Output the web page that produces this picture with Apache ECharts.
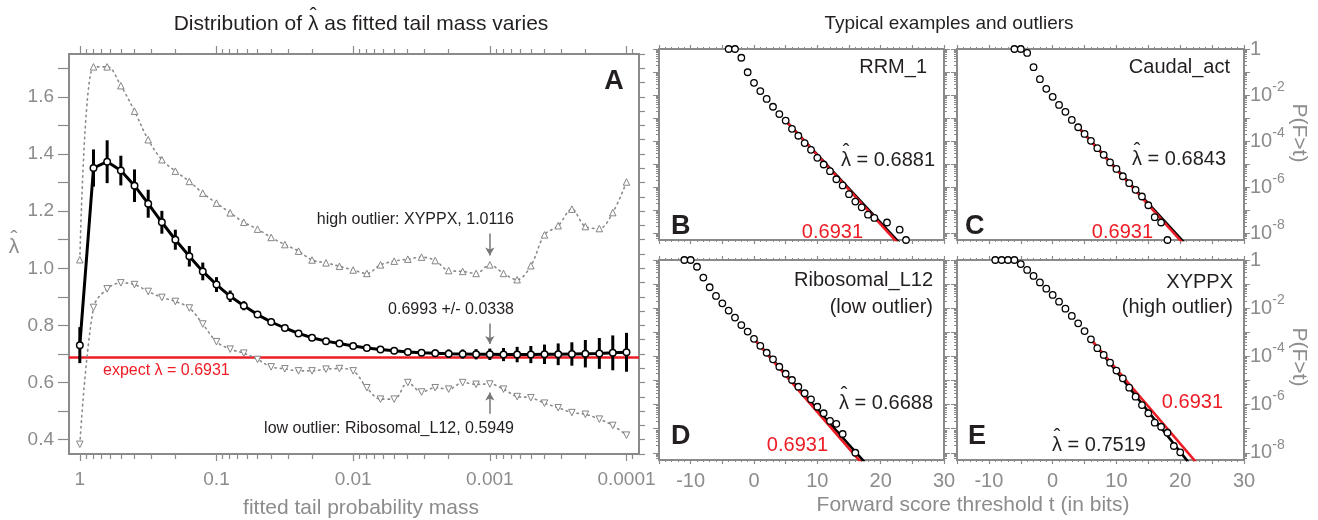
<!DOCTYPE html>
<html><head><meta charset="utf-8">
<script src="https://cdn.jsdelivr.net/npm/echarts@6/dist/echarts.min.js"></script>
<style>html,body{margin:0;padding:0;background:#fff}#c{width:1318px;height:520px}</style>
</head><body><div id="c"></div>
<script>
// ---------------- Panel A data ----------------
const tailMass = [1, 0.794, 0.631, 0.501, 0.398, 0.316, 0.251, 0.2, 0.158, 0.126,
  0.1, 0.0794, 0.0631, 0.0501, 0.0398, 0.0316, 0.0251, 0.02, 0.0158, 0.0126,
  0.01, 0.00794, 0.00631, 0.00501, 0.00398, 0.00316, 0.00251, 0.002, 0.00158, 0.00126,
  0.001, 0.000794, 0.000631, 0.000501, 0.000398, 0.000316, 0.000251, 0.0002, 0.000158, 0.000126, 0.0001];
const lambdaMean = [0.731, 1.351, 1.373, 1.342, 1.289, 1.226, 1.161, 1.100, 1.042, 0.989,
  0.943, 0.902, 0.869, 0.838, 0.812, 0.791, 0.772, 0.757, 0.745, 0.737,
  0.728, 0.721, 0.716, 0.711, 0.707, 0.704, 0.703, 0.701, 0.700, 0.699,
  0.699, 0.698, 0.698, 0.698, 0.699, 0.699, 0.700, 0.701, 0.702, 0.704, 0.706];
const lambdaErr = [0.063, 0.065, 0.075, 0.052, 0.057, 0.049, 0.040, 0.035, 0.036, 0.031,
  0.026, 0.020, 0.016, 0.012, 0.010, 0.009, 0.008, 0.007, 0.007, 0.007,
  0.007, 0.007, 0.008, 0.009, 0.010, 0.011, 0.013, 0.015, 0.016, 0.018,
  0.020, 0.023, 0.027, 0.030, 0.034, 0.038, 0.041, 0.048, 0.054, 0.061, 0.068];
const lambdaHigh = [1.03, 1.705, 1.705, 1.639, 1.550, 1.450, 1.380, 1.340, 1.304, 1.263,
  1.228, 1.194, 1.161, 1.137, 1.108, 1.083, 1.060, 1.029, 1.019, 1.007,
  0.994, 0.982, 1.012, 1.025, 1.032, 1.039, 1.027, 0.992, 0.989, 0.982,
  1.012, 0.982, 0.960, 1.009, 1.117, 1.149, 1.207, 1.146, 1.139, 1.195, 1.302];
const lambdaLow = [0.384, 0.863, 0.928, 0.949, 0.943, 0.919, 0.898, 0.884, 0.861, 0.805,
  0.743, 0.717, 0.703, 0.681, 0.655, 0.648, 0.641, 0.641, 0.647, 0.649,
  0.641, 0.582, 0.542, 0.542, 0.600, 0.567, 0.582, 0.577, 0.600, 0.594,
  0.595, 0.577, 0.551, 0.547, 0.528, 0.512, 0.495, 0.489, 0.472, 0.450, 0.416];
const massTickValues = [1, 0.1, 0.01, 0.001, 0.0001];
const massTickLabels = ['1', '0.1', '0.01', '0.001', '0.0001'];
const lambdaTickLabels = [0.4, 0.6, 0.8, 1.0, 1.2, 1.4, 1.6];
const expectLambda = 0.6931;
const arrowMass = 0.001;
const arrowHigh = [1.122, 1.045];
const arrowMid = [0.807, 0.735];
const arrowLow = [0.491, 0.565];

// ---------------- Panels B-E data (t in bits, log10 P(F>t)) ----------------
const bT = [-4,-3,-2,-1,0,1,2,3,4,5,6,7,8,9,10,11,12,13,14,15,16,17,18,19,21,23,24];
const bLogP = [0,0,-0.38,-1.01,-1.47,-1.83,-2.17,-2.51,-2.83,-3.11,-3.47,-3.77,-4.09,-4.38,-4.73,-5.02,-5.31,-5.66,-5.93,-6.31,-6.63,-6.88,-7.2,-7.34,-7.54,-7.85,-8.3];
const cT = [-6,-5,-4,-3,-2,-1,0,1,2,3,4,5,6,7,8,9,10,11,12,13,14,15,16,17,18];
const cLogP = [0,0,-0.17,-0.79,-1.31,-1.73,-2.08,-2.43,-2.73,-3.08,-3.4,-3.69,-3.99,-4.31,-4.6,-4.93,-5.21,-5.53,-5.83,-6.12,-6.41,-6.79,-7.31,-7.54,-8.3];
const dT = [-11,-10,-9,-8,-7,-6,-5,-4,-3,-2,-1,0,1,2,3,4,5,6,7,8,9,10,11,12,13,14,16];
const dLogP = [0,0,-0.28,-0.73,-1.13,-1.49,-1.80,-2.10,-2.39,-2.70,-2.97,-3.27,-3.56,-3.85,-4.12,-4.43,-4.72,-4.98,-5.26,-5.53,-5.78,-6.09,-6.36,-6.68,-6.80,-7.22,-8.0];
const eT = [-9,-8,-7,-6,-5,-4,-3,-2,-1,0,1,2,3,4,5,6,7,8,9,10,11,12,13,14,15,16,17,18,19,20];
const eLogP = [0,0,0,0,-0.17,-0.41,-0.66,-0.93,-1.19,-1.45,-1.73,-2.02,-2.32,-2.63,-2.95,-3.29,-3.66,-3.94,-4.26,-4.59,-4.91,-5.30,-5.67,-6.02,-6.36,-6.75,-6.92,-7.17,-7.72,-7.98];
// fitted exponential tails: [t, log10 P] at start and end
const bRedFit = [[5,-3.11],[22.6,-8.4]];
const bBlackFit = [[5,-3.11],[22.9,-8.4]];
const cRedFit = [[4,-3.4],[20.3,-8.4]];
const cBlackFit = [[4,-3.4],[20.6,-8.4]];
const dRedFit = [[0,-3.27],[16.9,-8.4]];
const dBlackFit = [[0,-3.27],[17.5,-8.4]];
const eRedFit = [[6,-3.29],[22.5,-8.4]];
const eBlackFit = [[6,-3.29],[21.3,-8.4]];
const panelNames = [['RRM_1'], ['Caudal_act'], ['Ribosomal_L12', '(low outlier)'], ['XYPPX', '(high outlier)']];
const panelLambda = ['0.6881', '0.6843', '0.6688', '0.7519'];
const panelLetters = ['B', 'C', 'D', 'E'];
const tTickLabels = [-10, 0, 10, 20, 30];
const pTickLabels = [1, 1e-2, 1e-4, 1e-6, 1e-8];

// ---------------- styling ----------------
const FONT = '"Liberation Sans", Arial, Helvetica, sans-serif';
const AX = '#8a8a8a', TXT = '#8c8c8c', INK = '#231f20', RED = '#ee1c25';
const X_MIN_A = 8.1e-5, X_MAX_A = 1.2;
const Y_MIN_A = 0.35, Y_MAX_A = 1.75;
const Y_MIN_P = Math.pow(10, -8.3), Y_MAX_P = 1;

const decadesA = massTickValues.slice();
const minorsA = [];
for (let k = 0; k <= 4; k++) for (let m = 2; m <= 9; m++) {
  const v = +(m * Math.pow(10, -k - 1)).toPrecision(3);
  if (v > X_MIN_A) minorsA.push(v);
}
const lamTicksL = []; for (let i = 4; i <= 17; i++) lamTicksL.push(+(i / 10).toFixed(2));
const lamTicksR = []; for (let i = 7; i <= 35; i++) lamTicksR.push(+(i * 0.05).toFixed(2));
const decP = []; for (let k = 0; k >= -8; k--) decP.push(Math.pow(10, k));
const minP = []; for (let k = -9; k < 0; k++) for (let m = 2; m <= 9; m++) { const v = m * Math.pow(10, k); if (v >= Y_MIN_P && v <= 1) minP.push(v); }

const lineSt = { color: AX, width: 2 };
const xAxes = [], yAxes = [];

// Panel A x axes (0..3)
[['bottom', decadesA, 7, true, true], ['bottom', minorsA, 5, false, false], ['top', decadesA, 8, true, false], ['top', minorsA, 5, false, false]]
.forEach(([pos, vals, len, line, lab]) => {
  xAxes.push({
    gridIndex: 0, type: 'log', position: pos, inverse: true, min: X_MIN_A, max: X_MAX_A,
    axisLine: { show: line, onZero: false, lineStyle: lineSt },
    axisTick: { show: true, inside: false, length: len, customValues: vals, lineStyle: { color: AX, width: 1.2 } },
    axisLabel: lab ? { show: true, customValues: massTickValues, color: TXT, fontSize: 19, fontFamily: FONT, margin: 16,
      formatter: v => massTickLabels[Math.round(-Math.log10(v))] } : { show: false },
    splitLine: { show: false }, axisPointer: { show: false }
  });
});
// Panel A y axes (0,1)
yAxes.push({ gridIndex: 0, type: 'value', position: 'left', min: Y_MIN_A, max: Y_MAX_A,
  axisLine: { show: true, onZero: false, lineStyle: lineSt },
  axisTick: { show: true, length: 11, customValues: lamTicksL, lineStyle: { color: AX, width: 1.2 } },
  axisLabel: { show: true, customValues: lambdaTickLabels, formatter: v => v.toFixed(1), color: TXT, fontSize: 19, fontFamily: FONT, margin: 15 },
  splitLine: { show: false } });
yAxes.push({ gridIndex: 0, type: 'value', position: 'right', min: Y_MIN_A, max: Y_MAX_A,
  axisLine: { show: true, onZero: false, lineStyle: lineSt },
  axisTick: { show: true, length: 6, customValues: lamTicksR, lineStyle: { color: AX, width: 1.2 } },
  axisLabel: { show: false }, splitLine: { show: false } });

// Panels B-E
const panelGrids = [
  { left: 659, top: 49, width: 285, height: 191 },
  { left: 957, top: 49, width: 287, height: 191 },
  { left: 659, top: 260, width: 285, height: 200 },
  { left: 957, top: 260, width: 287, height: 200 }
];
panelGrids.forEach((g, p) => {
  const gi = p + 1;
  const showX = p >= 2, showY = (p === 1 || p === 3);
  ['bottom', 'top'].forEach(pos => {
    xAxes.push({ gridIndex: gi, type: 'value', position: pos, min: -15, max: 30, interval: 5,
      axisLine: { show: true, onZero: false, lineStyle: lineSt },
      axisTick: { show: true, length: 4, lineStyle: { color: AX, width: 1.2 } },
      minorTick: { show: true, splitNumber: 5, length: 2, lineStyle: { color: AX, width: 1 } },
      axisLabel: (showX && pos === 'bottom') ? { show: true, customValues: tTickLabels, color: TXT, fontSize: 20, fontFamily: FONT, margin: 11 } : { show: false },
      splitLine: { show: false }, minorSplitLine: { show: false } });
  });
  [['left', decP, 6, true, false], ['left', minP, 3, false, false], ['right', decP, 6, true, showY], ['right', minP, 3, false, false]]
  .forEach(([pos, vals, len, line, lab]) => {
    yAxes.push({ gridIndex: gi, type: 'log', position: pos, min: Y_MIN_P, max: Y_MAX_P,
      axisLine: { show: line, onZero: false, lineStyle: lineSt },
      axisTick: { show: true, length: len, customValues: vals, lineStyle: { color: AX, width: 1 } },
      axisLabel: lab ? { show: true, customValues: pTickLabels, margin: 6,
        formatter: v => { const e = Math.round(Math.log10(v)); return e === 0 ? '{b|1}' : '{b|10}{s|' + e + '}'; },
        rich: { b: { fontSize: 20, color: TXT, fontFamily: FONT, lineHeight: 30 },
                s: { fontSize: 14, color: TXT, fontFamily: FONT, lineHeight: 14, verticalAlign: 'top' } } } : { show: false },
      splitLine: { show: false } });
  });
});

// ---------------- series ----------------
const pairs = (xs, ys) => xs.map((x, i) => [x, ys[i]]);
const series = [];
const dotStyle = { color: '#8a8a8a', width: 1.6, type: [1.5, 4], cap: 'round' };
series.push({ type: 'line', xAxisIndex: 0, yAxisIndex: 0, z: 2, smooth: 0.35, data: pairs(tailMass, lambdaHigh),
  symbol: 'triangle', symbolSize: 6.5, lineStyle: dotStyle,
  itemStyle: { color: '#fff', borderColor: '#777', borderWidth: 0.9 },
  markLine: { silent: true, symbol: 'none', z: 1, label: { show: false }, lineStyle: { color: RED, width: 2.5, type: 'solid' },
    data: [{ yAxis: expectLambda }] } });
series.push({ type: 'line', xAxisIndex: 0, yAxisIndex: 0, z: 2, smooth: 0.35, data: pairs(tailMass, lambdaLow),
  symbol: 'triangle', symbolRotate: 180, symbolSize: 6.5, lineStyle: dotStyle,
  itemStyle: { color: '#fff', borderColor: '#777', borderWidth: 0.9 },
  markLine: { silent: true, symbol: ['none', 'arrow'], symbolSize: [7, 8], label: { show: false },
    lineStyle: { color: '#777', width: 1.5, type: 'solid' },
    data: [[{ coord: [arrowMass, arrowHigh[0]] }, { coord: [arrowMass, arrowHigh[1]] }],
           [{ coord: [arrowMass, arrowMid[0]] }, { coord: [arrowMass, arrowMid[1]] }],
           [{ coord: [arrowMass, arrowLow[0]] }, { coord: [arrowMass, arrowLow[1]] }]] } });
series.push({ type: 'custom', xAxisIndex: 0, yAxisIndex: 0, z: 3,
  data: tailMass.map((m, i) => [m, lambdaMean[i], lambdaErr[i]]), encode: { x: 0, y: 1 },
  renderItem: (params, api) => {
    const x = api.value(0), y = api.value(1), e = api.value(2);
    const a = api.coord([x, y + e]), b = api.coord([x, y - e]);
    return { type: 'line', shape: { x1: a[0], y1: a[1], x2: b[0], y2: b[1] }, style: { stroke: '#000', lineWidth: 3 } };
  } });
series.push({ type: 'line', xAxisIndex: 0, yAxisIndex: 0, z: 4, data: pairs(tailMass, lambdaMean),
  symbol: 'circle', symbolSize: 6.5, lineStyle: { color: '#000', width: 3 },
  itemStyle: { color: '#fff', borderColor: '#000', borderWidth: 1.5 } });

const panelData = [[bT, bLogP, bRedFit, bBlackFit], [cT, cLogP, cRedFit, cBlackFit], [dT, dLogP, dRedFit, dBlackFit], [eT, eLogP, eRedFit, eBlackFit]];
const toP = arr => arr.map(([t, l]) => [t, Math.pow(10, l)]);
panelData.forEach(([ts, lp, red, black], p) => {
  const xi = 4 + 2 * p, yi = 2 + 4 * p;
  series.push({ type: 'line', xAxisIndex: xi, yAxisIndex: yi, z: 2, data: toP(black), showSymbol: false, symbol: 'none',
    lineStyle: { color: '#000', width: 2.6 } });
  series.push({ type: 'line', xAxisIndex: xi, yAxisIndex: yi, z: 3, data: toP(red), showSymbol: false, symbol: 'none',
    lineStyle: { color: RED, width: 2.6 } });
  series.push({ type: 'scatter', xAxisIndex: xi, yAxisIndex: yi, z: 4, data: ts.map((t, i) => [t, Math.pow(10, lp[i])]),
    symbol: 'circle', symbolSize: 6.5, itemStyle: { color: '#fff', borderColor: '#000', borderWidth: 1.3, opacity: 1 } });
});

// ---------------- text ----------------
const mctx = document.createElement('canvas').getContext('2d');
function tw(s, fs, w) { mctx.font = (w || 'normal') + ' ' + fs + 'px ' + FONT; return mctx.measureText(s).width; }
function txt(s, x, y, fs, color, align, weight, rot) {
  return { type: 'text', x: x, y: y, rotation: rot || 0, silent: true,
    style: { text: s, fill: color, font: (weight || 'normal') + ' ' + fs + 'px ' + FONT, fontSize: fs, fontFamily: FONT, fontWeight: weight || 'normal',
      align: align || 'left', textAlign: align || 'left', verticalAlign: 'middle', textVerticalAlign: 'middle' } };
}
function hatText(pre, post, x, y, fs, color, align) {
  const full = pre + 'λ' + post;
  const w = tw(full, fs);
  const left = align === 'center' ? x - w / 2 : align === 'right' ? x - w : x;
  const lx = left + tw(pre, fs) + tw('λ', fs) / 2;
  return [txt(full, left, y, fs, color, 'left'), txt('ˆ', lx, y - fs * 0.36, fs, color, 'center')];
}
const gfx = [];
gfx.push(...hatText('Distribution of ', ' as fitted tail mass varies', 361, 24, 21, INK, 'center'));
gfx.push(txt('Typical examples and outliers', 949, 24, 19, INK, 'center'));
gfx.push(txt('A', 614, 82, 27, INK, 'center', 'bold'));
gfx.push(txt('high outlier: XYPPX, 1.0116', 514, 220, 16, INK, 'right'));
gfx.push(txt('0.6993 +/- 0.0338', 514, 310, 16, INK, 'right'));
gfx.push(txt('low outlier: Ribosomal_L12, 0.5949', 514, 429, 16, INK, 'right'));
gfx.push(txt('expect λ = 0.6931', 103, 371, 16, RED, 'left'));
gfx.push(...hatText('', '', 14, 247, 21, TXT, 'center'));
gfx.push(txt('fitted tail probability mass', 361, 508, 21, TXT, 'center'));
gfx.push(txt('Forward score threshold t (in bits)', 973, 505, 21, TXT, 'center'));
gfx.push(txt('P(F>t)', 1299, 133, 21, TXT, 'center', 'normal', -Math.PI / 2));
gfx.push(txt('P(F>t)', 1299, 357, 21, TXT, 'center', 'normal', -Math.PI / 2));
// panel B
gfx.push(txt(panelNames[0][0], 927, 67, 20, INK, 'right'));
gfx.push(...hatText('', ' = ' + panelLambda[0], 935, 160, 20, INK, 'right'));
gfx.push(txt('0.6931', 863, 232, 20, RED, 'right'));
gfx.push(txt(panelLetters[0], 671, 227, 27, INK, 'left', 'bold'));
// panel C
gfx.push(txt(panelNames[1][0], 1230, 67, 20, INK, 'right'));
gfx.push(...hatText('', ' = ' + panelLambda[1], 1226, 159, 20, INK, 'right'));
gfx.push(txt('0.6931', 1153, 232, 20, RED, 'right'));
gfx.push(txt(panelLetters[1], 965, 227, 27, INK, 'left', 'bold'));
// panel D
gfx.push(txt(panelNames[2][0], 933, 280, 20, INK, 'right'));
gfx.push(txt(panelNames[2][1], 933, 307, 20, INK, 'right'));
gfx.push(...hatText('', ' = ' + panelLambda[2], 933, 403, 20, INK, 'right'));
gfx.push(txt('0.6931', 828, 445, 20, RED, 'right'));
gfx.push(txt(panelLetters[2], 671, 437, 27, INK, 'left', 'bold'));
// panel E
gfx.push(txt(panelNames[3][0], 1233, 282, 20, INK, 'right'));
gfx.push(txt(panelNames[3][1], 1233, 307, 20, INK, 'right'));
gfx.push(txt('0.6931', 1223, 402, 20, RED, 'right'));
gfx.push(...hatText('', ' = ' + panelLambda[3], 1052, 445, 20, INK, 'left'));
gfx.push(txt(panelLetters[3], 968, 437, 27, INK, 'left', 'bold'));

const grids = [{ left: 69, top: 54, width: 570, height: 400 }].concat(panelGrids)
  .map(g => Object.assign({ containLabel: false, outerBoundsMode: 'none', show: false }, g));

const chart = echarts.init(document.getElementById('c'), null, { renderer: 'canvas', width: 1318, height: 520 });
chart.setOption({
  animation: false,
  backgroundColor: '#fff',
  textStyle: { fontFamily: FONT },
  grid: grids,
  xAxis: xAxes,
  yAxis: yAxes,
  series: series,
  graphic: { elements: gfx }
});
</script>
</body></html>
